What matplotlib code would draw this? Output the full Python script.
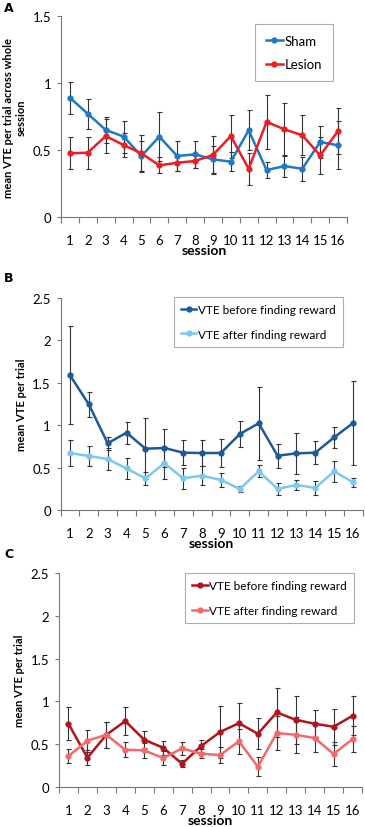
"""Mean VTE per trial across sessions (three panels)."""

import matplotlib
matplotlib.use("Agg")
import matplotlib.pyplot as plt
from matplotlib.ticker import FixedLocator

plt.rcParams["font.family"] = ["Lato", "DejaVu Sans"]

sessions = list(range(1, 17))

# Panel A
sham = [0.89, 0.77, 0.65, 0.60, 0.455, 0.60, 0.455, 0.468, 0.43, 0.413, 0.647, 0.35, 0.38, 0.36, 0.56, 0.535]
sham_err = [0.12, 0.11, 0.095, 0.12, 0.11, 0.18, 0.11, 0.10, 0.10, 0.07, 0.15, 0.06, 0.08, 0.09, 0.12, 0.18]
lesion = [0.475, 0.48, 0.604, 0.537, 0.475, 0.385, 0.405, 0.418, 0.463, 0.604, 0.36, 0.71, 0.654, 0.61, 0.46, 0.642]
lesion_err = [0.12, 0.12, 0.13, 0.09, 0.14, 0.06, 0.06, 0.05, 0.14, 0.16, 0.12, 0.20, 0.20, 0.15, 0.14, 0.17]

# Panel B
b_before = [1.59, 1.246, 0.786, 0.912, 0.723, 0.731, 0.676, 0.672, 0.672, 0.896, 1.022, 0.64, 0.668, 0.676, 0.857, 1.026]
b_before_err = [0.58, 0.15, 0.08, 0.13, 0.36, 0.22, 0.15, 0.15, 0.16, 0.155, 0.43, 0.14, 0.24, 0.135, 0.12, 0.50]
b_after = [0.672, 0.637, 0.60, 0.49, 0.373, 0.55, 0.373, 0.405, 0.354, 0.248, 0.456, 0.25, 0.295, 0.26, 0.456, 0.326]
b_after_err = [0.15, 0.12, 0.13, 0.12, 0.08, 0.19, 0.12, 0.11, 0.085, 0.04, 0.07, 0.07, 0.06, 0.08, 0.125, 0.05]

# Panel C
c_before = [0.739, 0.342, 0.61, 0.77, 0.552, 0.459, 0.272, 0.478, 0.642, 0.746, 0.622, 0.871, 0.785, 0.739, 0.704, 0.832]
c_before_err = [0.19, 0.09, 0.15, 0.16, 0.10, 0.08, 0.04, 0.07, 0.30, 0.24, 0.18, 0.29, 0.28, 0.16, 0.21, 0.23]
c_after = [0.362, 0.54, 0.61, 0.435, 0.428, 0.338, 0.451, 0.389, 0.373, 0.533, 0.237, 0.63, 0.61, 0.572, 0.385, 0.56]
c_after_err = [0.08, 0.13, 0.15, 0.09, 0.09, 0.08, 0.08, 0.05, 0.09, 0.15, 0.11, 0.20, 0.21, 0.16, 0.14, 0.15]

W, H = 365, 828
fig = plt.figure(figsize=(W / 100, H / 100), dpi=100)


def px_axes(left, right, top, bottom):
    return fig.add_axes([left / W, 1 - bottom / H, (right - left) / W, (bottom - top) / H])


def style_axes(ax, ymax, ystep, ylabel):
    ax.set_xlim(0.5, 16.5)
    ax.set_ylim(0, ymax)
    ax.set_yticks([i * ystep for i in range(int(round(ymax / ystep)) + 1)])
    ax.set_yticklabels([f"{v:g}" for v in ax.get_yticks()], fontsize=9.5)
    ax.set_xticks(sessions)
    ax.set_xticklabels([str(s) for s in sessions], fontsize=9.5)
    ax.tick_params(axis="x", which="major", length=0, pad=12)
    ax.xaxis.set_minor_locator(FixedLocator([i + 0.5 for i in range(0, 17)]))
    ax.tick_params(axis="x", which="minor", length=4, width=0.8, color="#777777")
    ax.tick_params(axis="y", length=3, width=0.8, color="#777777", pad=4)
    for side in ("top", "right"):
        ax.spines[side].set_visible(False)
    for side in ("left", "bottom"):
        ax.spines[side].set_color("#777777")
        ax.spines[side].set_linewidth(0.8)
    ax.set_xlabel("session", fontsize=10, fontweight="bold", labelpad=-1)
    ax.set_ylabel(ylabel, fontsize=8, fontweight="bold", labelpad=4)


def draw_series(ax, y, err, color, label):
    ax.errorbar(sessions, y, yerr=err, fmt="none", ecolor="#333333", elinewidth=0.8,
                capsize=1.8, capthick=0.8, zorder=2)
    ax.plot(sessions, y, color=color, lw=1.8, marker="o", ms=3.5, label=label, zorder=3)


def add_legend(ax, x, y, size, pad, spacing):
    leg = ax.legend(loc="upper right", bbox_to_anchor=(x, y), fontsize=size, frameon=True,
                    fancybox=False, edgecolor="#999999", handlelength=1.3, handletextpad=0.15,
                    borderpad=pad, labelspacing=spacing, borderaxespad=0)
    leg.get_frame().set_linewidth(0.8)


# A
ax_a = px_axes(61, 347, 17, 218)
draw_series(ax_a, sham, sham_err, "#1f78c8", "Sham")
draw_series(ax_a, lesion, lesion_err, "#ee1c24", "Lesion")
style_axes(ax_a, 1.5, 0.5, "mean VTE per trial across whole\nsession")
add_legend(ax_a, 0.951, 0.96, 9.5, 0.8, 0.9)

# B
ax_b = px_axes(60.5, 362.5, 299, 511)
draw_series(ax_b, b_before, b_before_err, "#1c5a9c", "VTE before finding reward")
draw_series(ax_b, b_after, b_after_err, "#7cc8f4", "VTE after finding reward")
style_axes(ax_b, 2.5, 0.5, "mean VTE per trial")
add_legend(ax_b, 0.935, 1.005, 8.5, 0.6, 1.15)

# C
ax_c = px_axes(59, 362, 574, 788)
draw_series(ax_c, c_before, c_before_err, "#b2141c", "VTE before finding reward")
draw_series(ax_c, c_after, c_after_err, "#f46a6a", "VTE after finding reward")
style_axes(ax_c, 2.5, 0.5, "mean VTE per trial")
add_legend(ax_c, 0.974, 1.0, 8.5, 0.6, 1.15)

for letter, ypx in (("A", 9), ("B", 279), ("C", 555)):
    fig.text(4 / W, 1 - ypx / H, letter, fontsize=9, fontweight="bold", family="DejaVu Sans",
             va="center", ha="left")

fig.savefig("out.png", dpi=100)
